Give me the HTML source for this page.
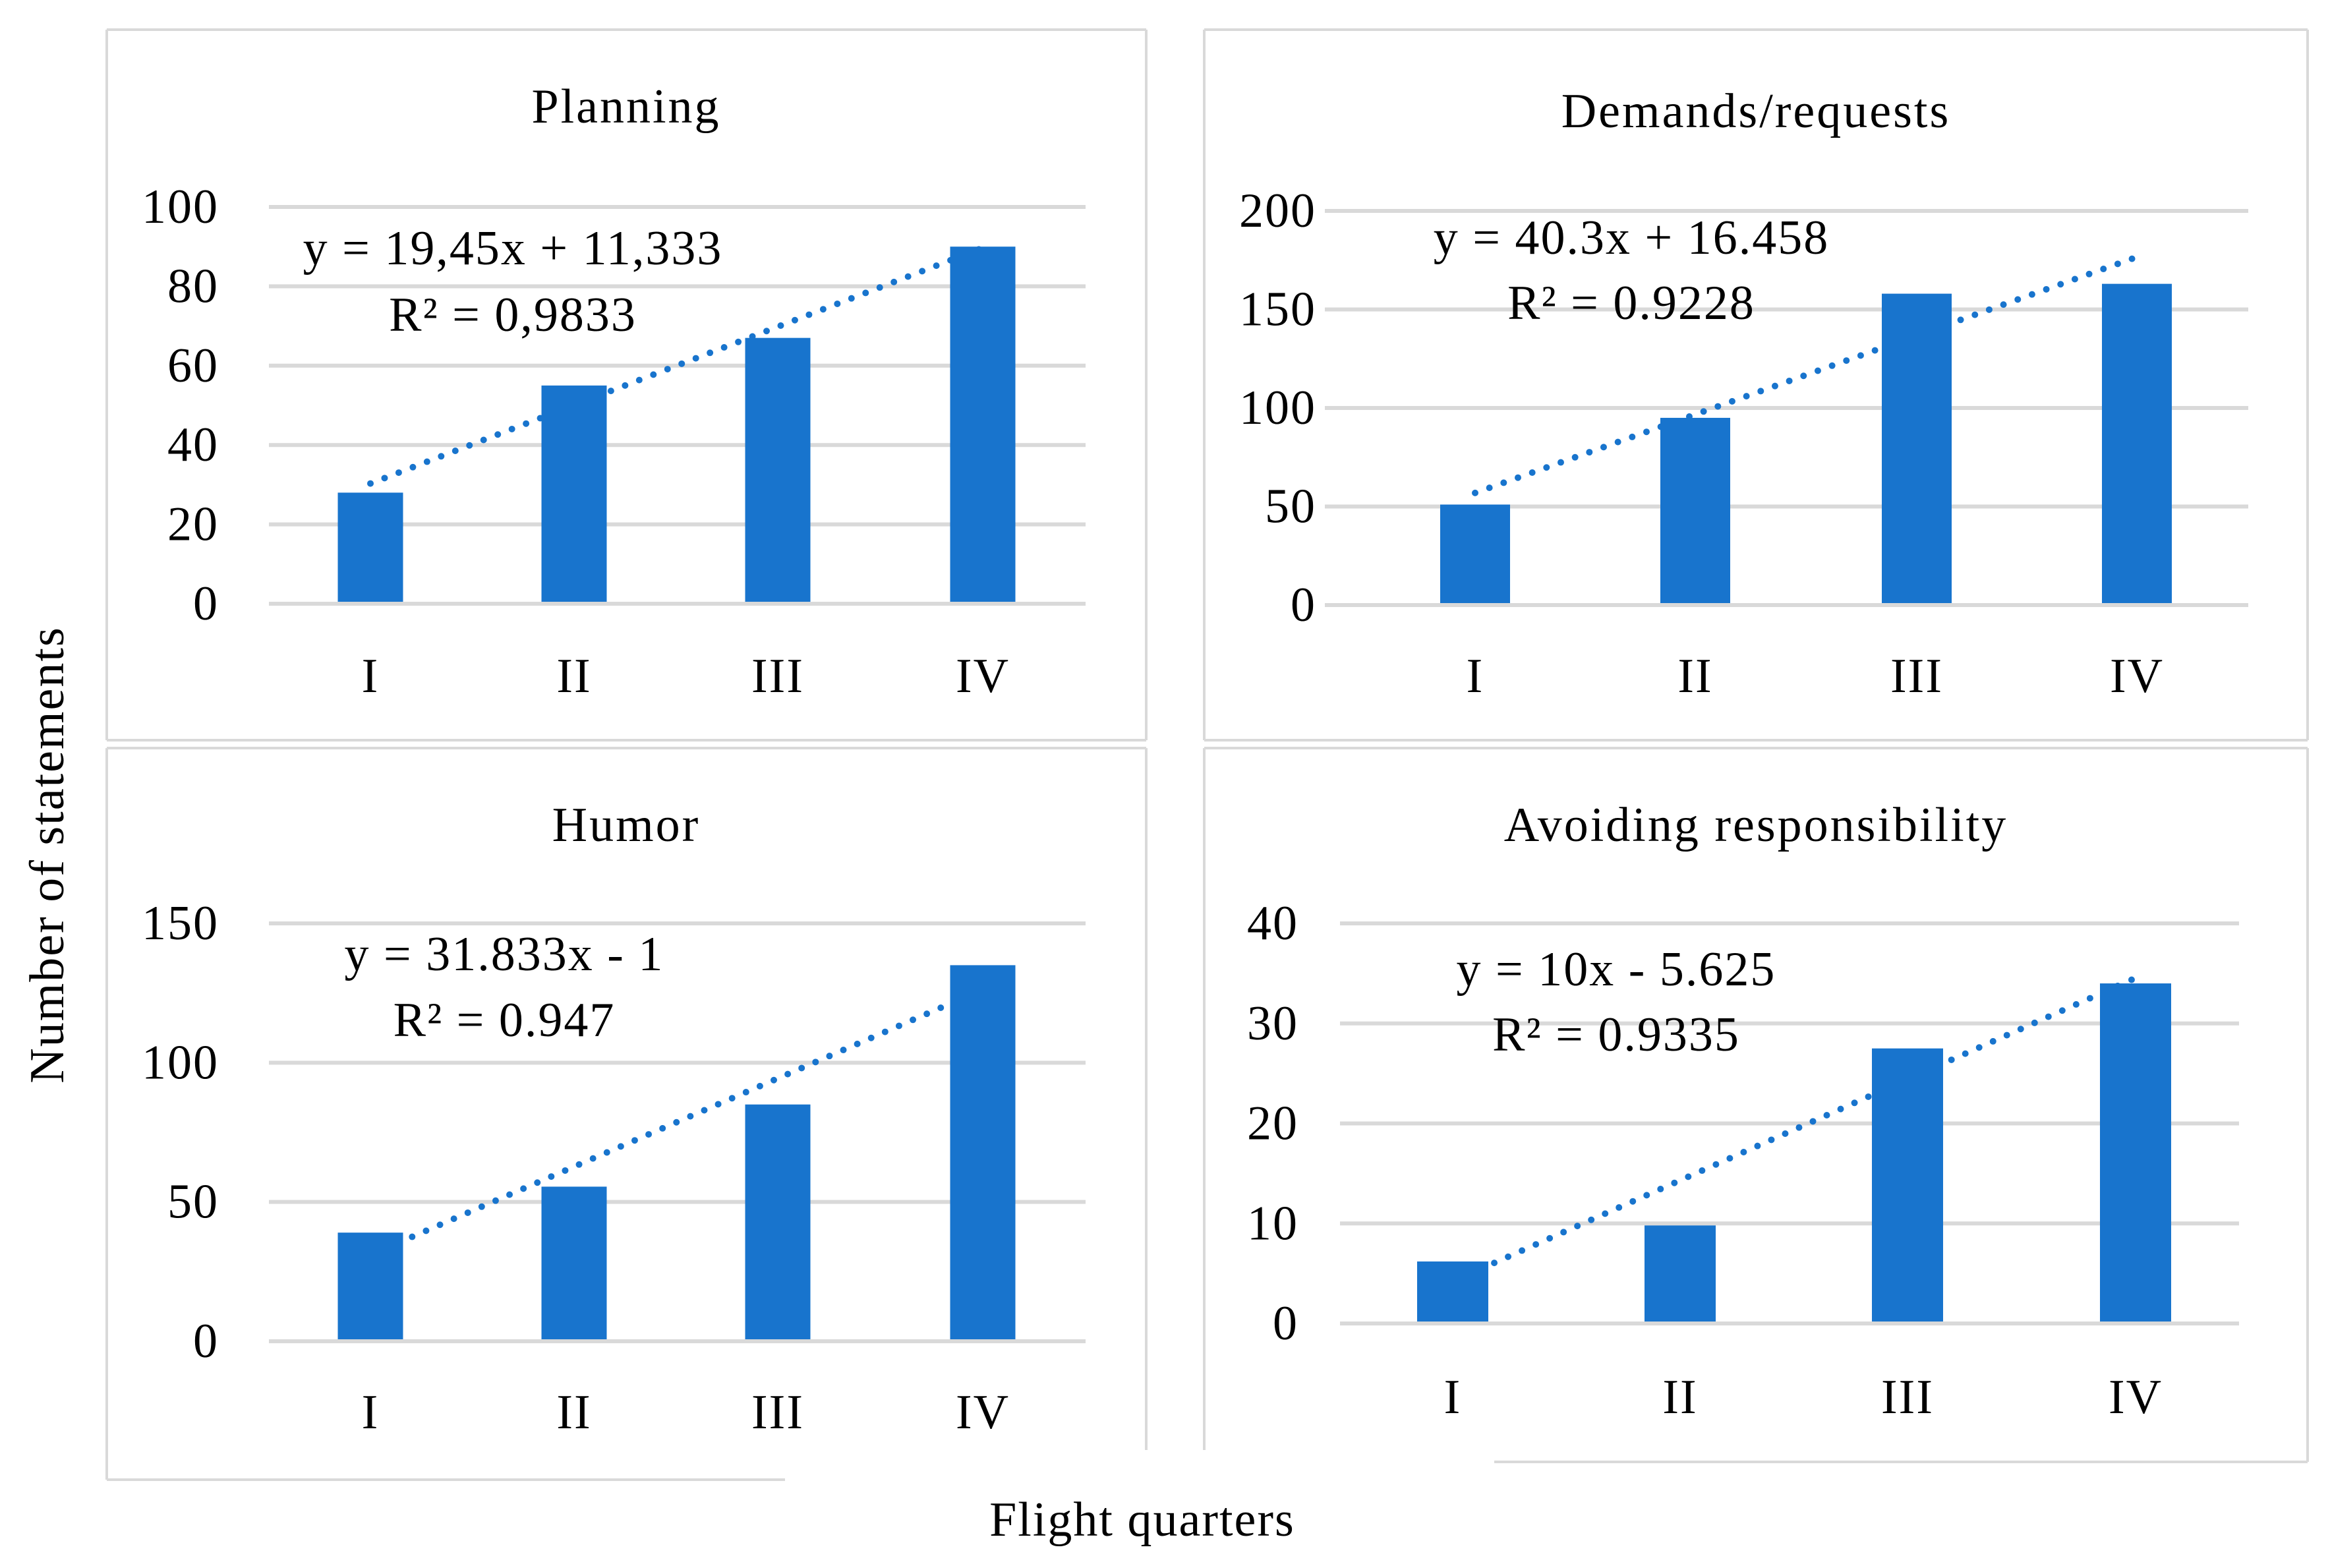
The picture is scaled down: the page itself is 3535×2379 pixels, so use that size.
<!DOCTYPE html>
<html><head><meta charset="utf-8"><style>
html,body{margin:0;padding:0;background:#fff;}
svg{display:block;font-family:"Liberation Serif",serif;}
</style></head><body>
<svg id="c" width="3535" height="2379" viewBox="0 0 3535 2379"></svg>
<script>
const categories = ["I","II","III","IV"];
const planningValues = [28, 55, 67, 90];
const demandsValues = [51, 95, 158, 163];
const humorValues = [39, 55.5, 85, 135];
const avoidingValues = [6.2, 9.8, 27.5, 34];
const planningTicks = [0,20,40,60,80,100];
const demandsTicks = [0,50,100,150,200];
const humorTicks = [0,50,100,150];
const avoidingTicks = [0,10,20,30,40];
const titles = ["Planning","Demands/requests","Humor","Avoiding responsibility"];
const equations = ["y = 19,45x + 11,333","y = 40.3x + 16.458","y = 31.833x - 1","y = 10x - 5.625"];
const rSquared = ["R² = 0,9833","R² = 0.9228","R² = 0.947","R² = 0.9335"];

const NS="http://www.w3.org/2000/svg";
const svg=document.getElementById('c');
function mk(tag,attrs,parent){const e=document.createElementNS(NS,tag);for(const k in attrs)e.setAttribute(k,attrs[k]);(parent||svg).appendChild(e);return e;}
const GREY="#d9d9d9", BLUE="#1874cd";
const FS=74, LS=2;

const borders=[
 [[162,45,1739,45],[162,45,162,1123],[1739,45,1739,1123],[162,1123,1739,1123]],
 [[1827,45,3501,45],[1827,45,1827,1123],[3501,45,3501,1123],[1827,1123,3501,1123]],
 [[162,1135,1739,1135],[162,1135,162,2245],[1739,1135,1739,2200],[162,2245,1191,2245]],
 [[1827,1135,3501,1135],[1827,1135,1827,2200],[3501,1135,3501,2218],[2267,2218,3501,2218]]
];
borders.forEach((b,i)=>{
 const g=mk('g',{});
 
 
 b.forEach(l=>mk('line',{x1:l[0],y1:l[1],x2:l[2],y2:l[3],stroke:GREY,'stroke-width':4},g));
});

const panels=[
 {vals:planningValues,ticks:planningTicks,gx0:408,gx1:1647,yTop:314,yBot:916,cx:[562,871,1180,1491],bw:99,tx:950,ty:162,lx:332,xly:1026,ex:778,ey:377,ry:478},
 {vals:demandsValues,ticks:demandsTicks,gx0:2010,gx1:3411,yTop:320,yBot:918,cx:[2238,2572,2908,3242],bw:106,tx:2664,ty:169,lx:1997,xly:1026,ex:2475,ey:361,ry:460},
 {vals:humorValues,ticks:humorTicks,gx0:408,gx1:1647,yTop:1401,yBot:2035,cx:[562,871,1180,1491],bw:99,tx:950,ty:1252,lx:332,xly:2143,ex:765,ey:1448,ry:1548},
 {vals:avoidingValues,ticks:avoidingTicks,gx0:2033,gx1:3397,yTop:1401,yBot:2008,cx:[2204,2549,2894,3240],bw:108,tx:2664,ty:1252,lx:1970,xly:2120,ex:2452,ey:1471,ry:1570}
];
const slugs=["planning","demands","humor","avoiding"];

panels.forEach((p,pi)=>{
 const s=slugs[pi];
 const g=mk('g',{});
 
 
 const maxT=p.ticks[p.ticks.length-1];
 const y=v=>p.yBot-(v/maxT)*(p.yBot-p.yTop);
 const t=mk('text',{x:p.tx,y:p.ty,'text-anchor':'middle','dominant-baseline':'central','font-size':FS,'letter-spacing':LS+1,fill:'#000'},g);
 t.textContent=titles[pi];
 
 
 p.ticks.forEach(tv=>{
  const gl=mk('line',{x1:p.gx0,x2:p.gx1,y1:y(tv),y2:y(tv),stroke:GREY,'stroke-width':6},g);
  
  
  const tl=mk('text',{x:p.lx,y:y(tv),'text-anchor':'end','dominant-baseline':'central','font-size':FS,'letter-spacing':LS,fill:'#000'},g);
  tl.textContent=tv;
  
  
 });
 const n=p.vals.length; const xs=p.vals.map((_,i)=>i+1);
 const mx=xs.reduce((a,b)=>a+b)/n, my=p.vals.reduce((a,b)=>a+b)/n;
 let sxy=0,sxx=0; xs.forEach((x,i)=>{sxy+=(x-mx)*(p.vals[i]-my);sxx+=(x-mx)*(x-mx);});
 const slope=sxy/sxx, icpt=my-slope*mx;
 const tr=mk('line',{x1:p.cx[0],y1:y(slope*1+icpt),x2:p.cx[n-1],y2:y(slope*n+icpt),stroke:BLUE,'stroke-width':10,'stroke-linecap':'round','stroke-dasharray':'0 23'},g);
 
 
 p.vals.forEach((v,i)=>{
  const b=mk('rect',{x:p.cx[i]-p.bw/2,y:y(v),width:p.bw,height:p.yBot-3-y(v),fill:BLUE},g);
  
  
  const xl=mk('text',{x:p.cx[i],y:p.xly,'text-anchor':'middle','dominant-baseline':'central','font-size':FS,'letter-spacing':LS,fill:'#000'},g);
  xl.textContent=categories[i];
  
  
 });
 const e=mk('text',{x:p.ex,y:p.ey,'text-anchor':'middle','dominant-baseline':'central','font-size':FS,'letter-spacing':LS,fill:'#000'},g);
 e.textContent=equations[pi];
 
 
 const r=mk('text',{x:p.ex,y:p.ry,'text-anchor':'middle','dominant-baseline':'central','font-size':FS,'letter-spacing':LS,fill:'#000'},g);
 r.textContent=rSquared[pi];
 
 
});

const yt=mk('text',{x:72,y:1297,'text-anchor':'middle','dominant-baseline':'central','font-size':FS,'letter-spacing':LS,fill:'#000',transform:'rotate(-90 72 1297)'});
yt.textContent="Number of statements";


const xt=mk('text',{x:1733,y:2306,'text-anchor':'middle','dominant-baseline':'central','font-size':FS,'letter-spacing':LS,fill:'#000'});
xt.textContent="Flight quarters";


</script>
</body></html>
